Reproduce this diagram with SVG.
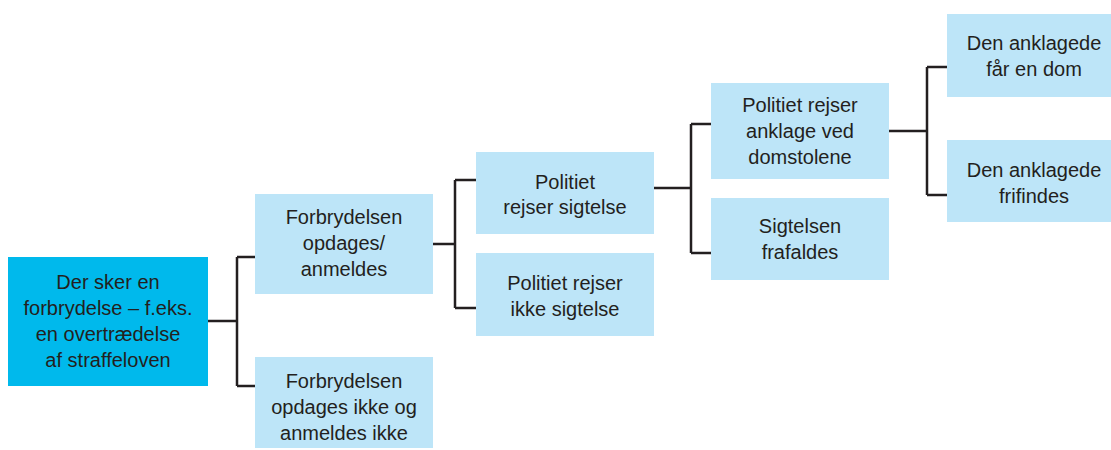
<svg xmlns="http://www.w3.org/2000/svg" width="1111" height="450" viewBox="0 0 1111 450">
<style>
.box{fill:#bde5f8}
.root{fill:#00b9ec}
text{font-family:"Liberation Sans",Arial,sans-serif;font-size:20px;fill:#231f20;text-anchor:middle}
.conn{fill:none;stroke:#231f20;stroke-width:2.5}
</style>
<rect width="1111" height="450" fill="#ffffff"/>
<g id="connectors">
<path class="conn" d="M208 321H237M237 257V386M237 257H255M237 386H255"/>
<path class="conn" d="M433 244H455M455 180V308M455 180H476M455 308H476"/>
<path class="conn" d="M654 188H691M691 124V253M691 124H711M691 253H711"/>
<path class="conn" d="M889 131H927M927 67V195M927 67H947M927 195H947"/>
</g>
<g id="root">
<rect class="root" x="8" y="257" width="200" height="129"/>
<text x="108" y="289">Der sker en</text>
<text x="108" y="315">forbrydelse – f.eks.</text>
<text x="108" y="341">en overtrædelse</text>
<text x="108" y="367">af straffeloven</text>
</g>
<g id="opdages">
<rect class="box" x="255" y="194" width="178" height="100"/>
<text x="344" y="224">Forbrydelsen</text>
<text x="344" y="250">opdages/</text>
<text x="344" y="276">anmeldes</text>
</g>
<g id="ikke-opdages">
<rect class="box" x="255" y="357" width="178" height="91"/>
<text x="344" y="388">Forbrydelsen</text>
<text x="344" y="414">opdages ikke og</text>
<text x="344" y="440">anmeldes ikke</text>
</g>
<g id="sigtelse">
<rect class="box" x="476" y="152" width="178" height="82"/>
<text x="565" y="189">Politiet</text>
<text x="565" y="214">rejser sigtelse</text>
</g>
<g id="ikke-sigtelse">
<rect class="box" x="476" y="253" width="178" height="83"/>
<text x="565" y="290">Politiet rejser</text>
<text x="565" y="316">ikke sigtelse</text>
</g>
<g id="anklage">
<rect class="box" x="711" y="83" width="178" height="96"/>
<text x="800" y="112">Politiet rejser</text>
<text x="800" y="138">anklage ved</text>
<text x="800" y="164">domstolene</text>
</g>
<g id="frafaldes">
<rect class="box" x="711" y="198" width="178" height="82"/>
<text x="800" y="233">Sigtelsen</text>
<text x="800" y="259">frafaldes</text>
</g>
<g id="dom">
<rect class="box" x="947" y="14" width="164" height="83"/>
<text x="1034" y="50">Den anklagede</text>
<text x="1034" y="76">får en dom</text>
</g>
<g id="frifindes">
<rect class="box" x="947" y="140" width="164" height="82"/>
<text x="1034" y="177">Den anklagede</text>
<text x="1034" y="203">frifindes</text>
</g>
</svg>
